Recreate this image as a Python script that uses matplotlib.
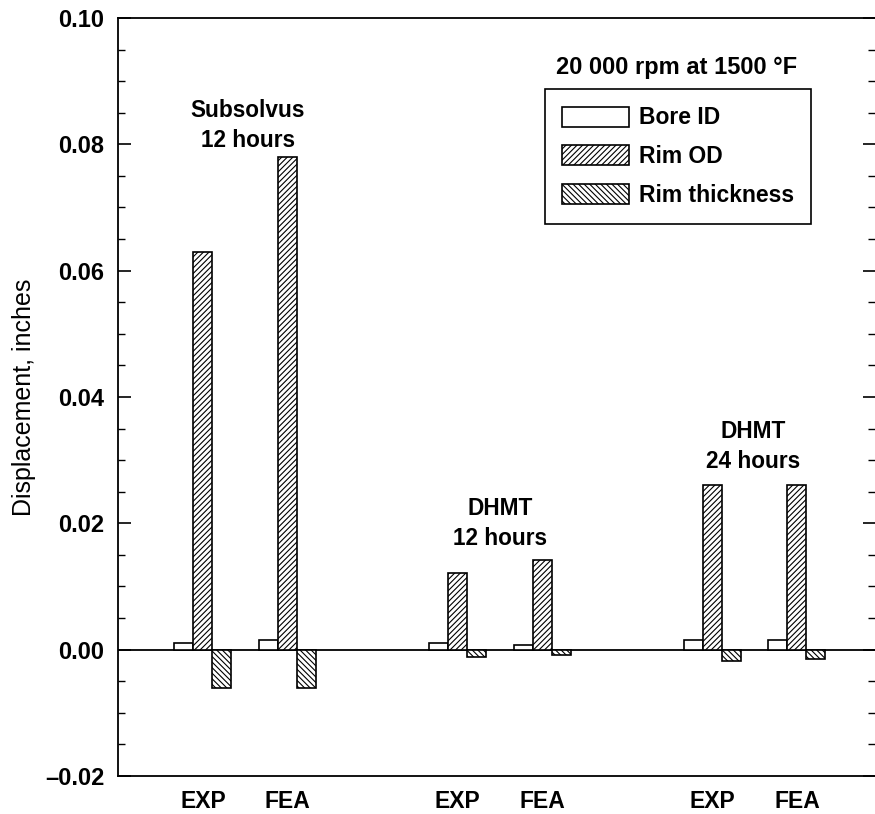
import matplotlib.pyplot as plt
import numpy as np
from matplotlib.ticker import MultipleLocator, FuncFormatter

plt.rcParams['font.family'] = ['Liberation Sans', 'DejaVu Sans']
plt.rcParams['hatch.linewidth'] = 0.8

# bar data, inches
labels = ["EXP", "FEA", "EXP", "FEA", "EXP", "FEA"]
xpos = [1, 2, 4, 5, 7, 8]
bore_id = [0.001, 0.0015, 0.001, 0.0008, 0.0016, 0.0016]
rim_od = [0.063, 0.078, 0.0122, 0.0142, 0.026, 0.026]
rim_thick = [-0.0061, -0.0061, -0.0011, -0.0008, -0.0018, -0.0015]

group_text = ["Subsolvus\n12 hours", "DHMT\n12 hours", "DHMT\n24 hours"]
group_x = [1.53, 4.5, 7.48]
group_y = [0.0788, 0.0158, 0.0279]

fig = plt.figure(figsize=(8.75, 8.14), dpi=100)
ax = fig.add_axes([0.1349, 0.0467, 0.8651, 0.9312])

w = 0.224
x = np.array(xpos, dtype=float)
ax.bar(x - w, bore_id, w, facecolor='white', edgecolor='black', linewidth=1.2, label='Bore ID')
ax.bar(x, rim_od, w, facecolor='white', edgecolor='black', linewidth=1.2, hatch='//////', label='Rim OD')
ax.bar(x + w, rim_thick, w, facecolor='white', edgecolor='black', linewidth=1.2, hatch='\\\\\\\\\\\\', label='Rim thickness')

ax.axhline(0, color='black', linewidth=1.3, zorder=0.5)

ax.set_xlim(0, 8.92)
ax.set_ylim(-0.02, 0.10)
ax.yaxis.set_major_locator(MultipleLocator(0.02))
ax.yaxis.set_minor_locator(MultipleLocator(0.005))
ax.yaxis.set_major_formatter(FuncFormatter(lambda v, p: f"{v:.2f}".replace('-', '\u2013')))
ax.tick_params(axis='y', which='both', direction='in', right=True, labelsize=17, pad=10)
ax.tick_params(axis='y', which='major', length=9, width=1.2)
ax.tick_params(axis='y', which='minor', length=5, width=1)
for t in ax.get_yticklabels():
    t.set_fontweight('bold')

ax.set_xticks(xpos)
ax.set_xticklabels(labels, fontsize=16.5, fontweight='bold')
ax.tick_params(axis='x', length=0, pad=10)

ax.spines['right'].set_visible(False)
for s in ['left', 'top', 'bottom']:
    ax.spines[s].set_linewidth(1.3)

ax.set_ylabel("Displacement, inches", fontsize=18, labelpad=6)

for txt, gx, gy in zip(group_text, group_x, group_y):
    ax.text(gx, gy, txt, ha='center', va='bottom', fontsize=16.3,
            fontweight='bold', linespacing=1.4)

ax.text(0.738, 0.935, "20 000 rpm at 1500 \u00b0F", transform=ax.transAxes,
        ha='center', va='center', fontsize=17, fontweight='bold')

leg = ax.legend(loc='upper left', bbox_to_anchor=(0.564, 0.906), fontsize=16.5,
                frameon=True, fancybox=False, edgecolor='black', framealpha=1,
                handlelength=2.9, handleheight=0.96, handletextpad=0.45,
                borderpad=0.75, labelspacing=0.68, borderaxespad=0)
leg.get_frame().set_linewidth(1.2)
for t in leg.get_texts():
    t.set_fontweight('bold')

fig.savefig("out.png", dpi=100)
